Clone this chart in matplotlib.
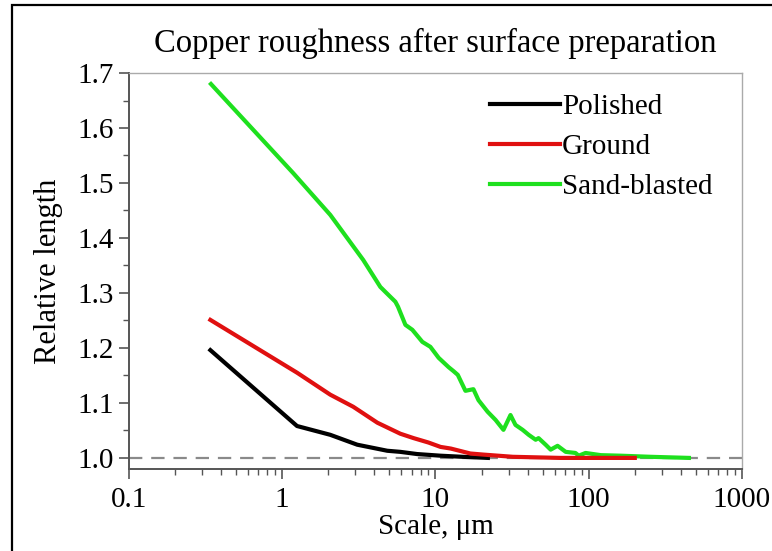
import numpy as np
import matplotlib
matplotlib.use("Agg")
import matplotlib.pyplot as plt
from matplotlib.ticker import LogLocator, FixedLocator, FixedFormatter, MultipleLocator, FormatStrFormatter
from matplotlib.patches import Rectangle

# values
polished_x = [0.34, 1.25, 2.06, 3.09, 4.85, 5.9, 7.6, 10.8, 15.0, 22.0]
polished_y = [1.196, 1.058, 1.042, 1.024, 1.013, 1.011, 1.007, 1.004, 1.002, 1.0]

ground_x = [0.34, 1.25, 2.06, 2.91, 4.18, 5.9, 7.2, 9.0, 10.8, 12.6, 16.9, 20.6, 32.0, 65.0, 200.0]
ground_y = [1.251, 1.155, 1.115, 1.093, 1.064, 1.044, 1.036, 1.028, 1.020, 1.017, 1.008, 1.006, 1.002, 1.0, 1.0]

sand_x = [0.343, 1.18, 2.06, 3.38, 4.37, 4.71, 5.48, 5.7, 6.37, 7.07, 8.22, 9.27, 10.5,
          12.2, 13.1, 14.0, 15.7, 17.7, 19.1, 21.9, 24.7, 27.8, 30.9, 33.3, 37.1,
          40.6, 45.1, 47.1, 52.4, 56.5, 62.7, 70.8, 82.0, 86.1, 95.5, 120.0, 162.0,
          254.0, 451.0]
sand_y = [1.680, 1.518, 1.442, 1.360, 1.311, 1.302, 1.284, 1.275, 1.242, 1.233, 1.211, 1.202, 1.182,
          1.165, 1.158, 1.151, 1.122, 1.125, 1.105, 1.084, 1.069, 1.051, 1.078, 1.060, 1.051,
          1.042, 1.033, 1.036, 1.024, 1.015, 1.022, 1.011, 1.009, 1.004, 1.009, 1.005, 1.004,
          1.002, 1.000]

x_ticks = [0.1, 1, 10, 100, 1000]
x_tick_labels = ["0.1", "1", "10", "100", "1000"]

plt.rcParams["font.family"] = ["Liberation Serif", "DejaVu Serif"]

fig = plt.figure(figsize=(7.72, 5.51), dpi=100)
ax = fig.add_axes([0.167, 0.149, 0.794, 0.7185])

ax.axhline(1.0, color="#8a8a8a", lw=1.6, ls=(0, (6, 4)), zorder=1)
ax.plot(polished_x, polished_y, color="black", lw=3, label="Polished", zorder=3)
ax.plot(ground_x, ground_y, color="#e01010", lw=3, label="Ground", zorder=3)
ax.plot(sand_x, sand_y, color="#1ee01e", lw=3, label="Sand-blasted", zorder=2)

ax.set_xscale("log")
ax.set_xlim(0.1, 1000)
ax.set_ylim(0.98, 1.7)

ax.xaxis.set_major_locator(FixedLocator(x_ticks))
ax.xaxis.set_major_formatter(FixedFormatter(x_tick_labels))
ax.xaxis.set_minor_locator(LogLocator(base=10, subs=np.arange(2, 10), numticks=20))
ax.xaxis.set_minor_formatter(plt.NullFormatter())
ax.yaxis.set_major_locator(MultipleLocator(0.1))
ax.yaxis.set_minor_locator(MultipleLocator(0.05))
ax.yaxis.set_major_formatter(FormatStrFormatter("%.1f"))

ax.tick_params(which="major", direction="out", length=7, width=1.2, color="#555555",
               labelsize=21, pad=4)
ax.tick_params(which="minor", direction="out", length=4, width=1.0, color="#555555")
ax.tick_params(axis="x", which="major", pad=6)

for side in ["left", "bottom"]:
    ax.spines[side].set_color("#555555")
    ax.spines[side].set_linewidth(1.4)
for side in ["top", "right"]:
    ax.spines[side].set_color("#aaaaaa")
    ax.spines[side].set_linewidth(1.0)

ax.set_title("Copper roughness after surface preparation", fontsize=23.5, pad=15)
ax.set_xlabel("Scale, μm", fontsize=21, labelpad=1)
ax.set_ylabel("Relative length", fontsize=22, labelpad=10)

ax.legend(loc="upper right", bbox_to_anchor=(0.985, 1.0), frameon=False, fontsize=21,
          handlelength=2.4, handletextpad=0.05, labelspacing=0.47, borderaxespad=0.3)

# outer frame of the original figure
fig.patches.append(Rectangle((12 / 772, -0.05), 1.1, 1 - 5 / 551 + 0.05,
                             transform=fig.transFigure, fill=False, ec="black", lw=1.6))

fig.savefig("out.png", dpi=100)
